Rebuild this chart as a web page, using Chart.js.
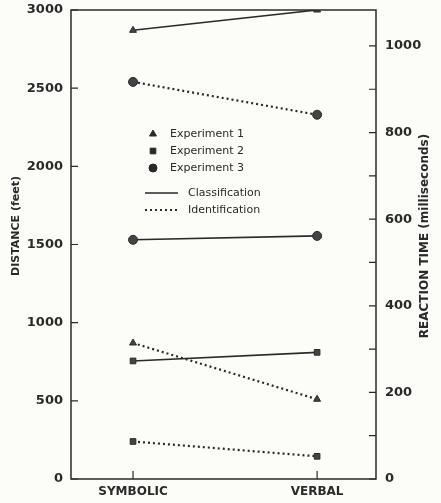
<!DOCTYPE html>
<html>
<head>
<meta charset="utf-8">
<script src="https://cdn.jsdelivr.net/npm/chart.js@4/dist/chart.umd.min.js"></script>
<style>
    html, body { margin: 0; padding: 0; background: #fcfcf9; }
    #wrap { width: 441px; height: 503px; position: relative; }
</style>
</head>
<body>
<div id="wrap"><canvas id="chart"></canvas></div>
<script>
const categories = ['SYMBOLIC', 'VERBAL'];

// distance (feet) for each condition
const exp1Classification = [2870, 3000];
const exp1Identification = [870, 510];
const exp2Classification = [755, 810];
const exp2Identification = [240, 145];
const exp3Classification = [1530, 1555];
const exp3Identification = [2540, 2330];

const distanceTicks = [0, 500, 1000, 1500, 2000, 2500, 3000];
const reactionTicks = [0, 200, 400, 600, 800, 1000];

const leftTitle = 'DISTANCE (feet)';
const rightTitle = 'REACTION TIME (milliseconds)';

const ink = '#2a2a2a';
const fontFamily = '"DejaVu Sans", sans-serif';

function toPoints(values) {
    return values.map(function (v, i) { return { x: i, y: v }; });
}

function series(label, values, style, dotted) {
    return {
        label: label,
        data: toPoints(values),
        borderColor: ink,
        backgroundColor: ink,
        borderWidth: dotted ? 2.2 : 1.6,
        borderDash: dotted ? [2, 3] : [],
        pointStyle: style,
        pointRadius: style === 'circle' ? 4.5 : 4,
        pointBorderWidth: 1,
        pointBorderColor: ink,
        pointBackgroundColor: '#444',
        tension: 0
    };
}

const frameAndTicks = {
    id: 'frameAndTicks',
    afterDatasetsDraw(chart) {
        const ctx = chart.ctx;
        const a = chart.chartArea;
        const s = chart.scales;
        ctx.save();
        ctx.strokeStyle = ink;
        ctx.lineWidth = 1.5;
        ctx.strokeRect(a.left, a.top, a.right - a.left, a.bottom - a.top);
        ctx.lineWidth = 1.2;
        ctx.beginPath();
        distanceTicks.forEach(function (v) {
            const py = s.y.getPixelForValue(v);
            ctx.moveTo(a.left, py);
            ctx.lineTo(a.left + 7, py);
        });
        for (let v = 0; v <= 1000; v += 100) {
            const py = s.y1.getPixelForValue(v);
            ctx.moveTo(a.right, py);
            ctx.lineTo(a.right - 7, py);
        }
        categories.forEach(function (c, i) {
            const px = s.x.getPixelForValue(i);
            ctx.moveTo(px, a.bottom);
            ctx.lineTo(px, a.bottom - 8);
        });
        ctx.stroke();

        // both axis titles read bottom-to-top
        ctx.fillStyle = ink;
        ctx.textAlign = 'center';
        ctx.textBaseline = 'middle';
        ctx.font = 'bold 11px ' + fontFamily;
        ctx.save();
        ctx.translate(16, a.top + 216);
        ctx.rotate(-Math.PI / 2);
        ctx.fillText(leftTitle, 0, 0);
        ctx.restore();
        ctx.font = 'bold 12px ' + fontFamily;
        ctx.save();
        ctx.translate(425, a.top + 226);
        ctx.rotate(-Math.PI / 2);
        ctx.fillText(rightTitle, 0, 0);
        ctx.restore();
        ctx.restore();
    }
};

const legendBox = {
    id: 'legendBox',
    afterDraw(chart) {
        const ctx = chart.ctx;
        const a = chart.chartArea;
        const x0 = a.left + 82;
        const y0 = a.top + 124;
        const markers = [['triangle', 'Experiment 1'], ['rect', 'Experiment 2'], ['circle', 'Experiment 3']];
        ctx.save();
        ctx.fillStyle = ink;
        ctx.strokeStyle = ink;
        ctx.font = '11px ' + fontFamily;
        ctx.textBaseline = 'middle';
        markers.forEach(function (m, i) {
            const y = y0 + i * 17;
            Chart.helpers.drawPoint(ctx, { pointStyle: m[0], radius: 4, rotation: 0, borderWidth: 1 }, x0, y);
            ctx.fillText(m[1], x0 + 17, y);
        });
        const lines = [[[], 'Classification'], [[2, 3], 'Identification']];
        lines.forEach(function (l, i) {
            const y = y0 + 59 + i * 17;
            ctx.beginPath();
            ctx.lineWidth = l[0].length ? 2 : 1.5;
            ctx.setLineDash(l[0]);
            ctx.moveTo(x0 - 8, y);
            ctx.lineTo(x0 + 25, y);
            ctx.stroke();
            ctx.setLineDash([]);
            ctx.fillText(l[1], x0 + 35, y);
        });
        ctx.restore();
    }
};

function plainNumber(v) {
    return String(v);
}

function fixWidth(w) {
    return function (scale) {
        scale.width = w;
        scale.paddingTop = 0;
        scale.paddingBottom = 0;
    };
}

new Chart(document.getElementById('chart').getContext('2d'), {
    type: 'line',
    data: {
        datasets: [
            series('Experiment 1 Classification', exp1Classification, 'triangle', false),
            series('Experiment 1 Identification', exp1Identification, 'triangle', true),
            series('Experiment 2 Classification', exp2Classification, 'rect', false),
            series('Experiment 2 Identification', exp2Identification, 'rect', true),
            series('Experiment 3 Classification', exp3Classification, 'circle', false),
            series('Experiment 3 Identification', exp3Identification, 'circle', true)
        ]
    },
    options: {
        responsive: true,
        maintainAspectRatio: false,
        animation: false,
        layout: { padding: { top: 10 } },
        plugins: {
            legend: { display: false },
            tooltip: { enabled: false }
        },
        scales: {
            x: {
                type: 'linear',
                min: -0.337,
                max: 1.32,
                afterBuildTicks: function (scale) {
                    scale.ticks = categories.map(function (c, i) { return { value: i }; });
                },
                afterFit: function (scale) {
                    scale.height = 24;
                    scale.paddingLeft = 0;
                    scale.paddingRight = 0;
                },
                grid: { display: false, drawTicks: false },
                border: { display: false },
                ticks: {
                    color: ink,
                    padding: 6,
                    maxRotation: 0,
                    font: { family: fontFamily, size: 12, weight: 'bold' },
                    callback: function (v) { return categories[v]; }
                }
            },
            y: {
                position: 'left',
                min: 0,
                max: 3000,
                afterBuildTicks: function (scale) {
                    scale.ticks = distanceTicks.map(function (v) { return { value: v }; });
                },
                afterFit: fixWidth(71),
                grid: { display: false, drawTicks: false },
                border: { display: false },
                ticks: {
                    color: ink,
                    padding: 8,
                    font: { family: fontFamily, size: 13, weight: 'bold' },
                    callback: plainNumber
                }
            },
            y1: {
                position: 'right',
                min: 0,
                max: 1083,
                afterBuildTicks: function (scale) {
                    scale.ticks = reactionTicks.map(function (v) { return { value: v }; });
                },
                afterFit: fixWidth(65),
                grid: { display: false, drawTicks: false },
                border: { display: false },
                ticks: {
                    color: ink,
                    padding: 9,
                    font: { family: fontFamily, size: 13, weight: 'bold' },
                    callback: plainNumber
                }
            }
        }
    },
    plugins: [frameAndTicks, legendBox]
});
</script>
</body>
</html>
